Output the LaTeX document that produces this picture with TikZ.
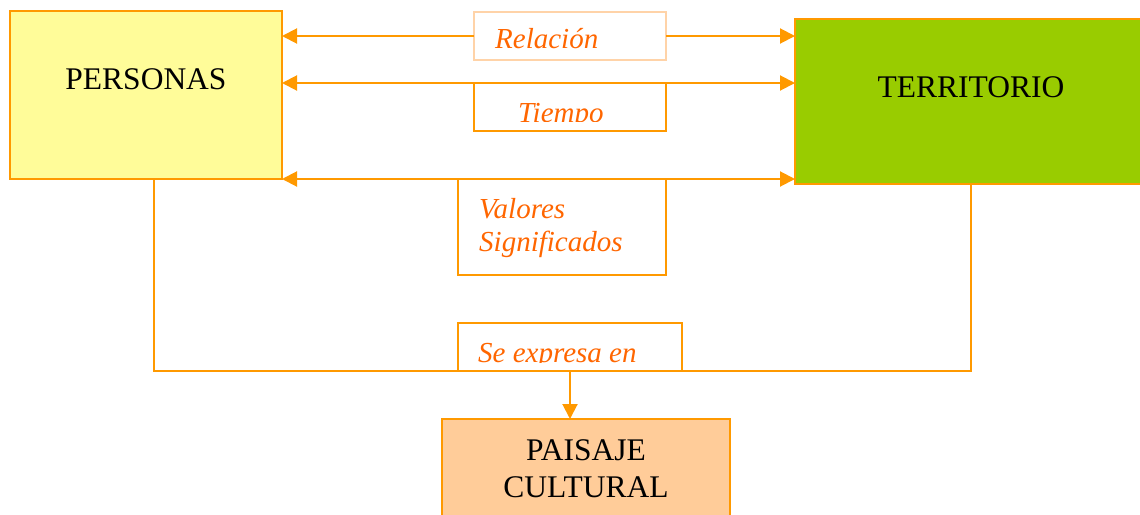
\documentclass[tikz,border=0pt]{standalone}
\usepackage{fontspec}
\setmainfont{Liberation Serif}
\usetikzlibrary{arrows.meta}
\definecolor{lineor}{HTML}{FF9900}
\definecolor{lightor}{HTML}{FFD3A8}
\definecolor{textor}{HTML}{FF6600}
\definecolor{persfill}{HTML}{FFFC99}
\definecolor{terrfill}{HTML}{99CC00}
\definecolor{paisfill}{HTML}{FFCC99}
\tikzset{
  box/.style={draw=lineor, line width=2pt, rectangle, inner sep=0pt, outer sep=0pt},
  bigtxt/.style={anchor=base, inner sep=0pt, font=\fontsize{31.5}{34}\selectfont, text=black},
  ittxt/.style={anchor=base west, inner sep=0pt, font=\fontsize{29}{33}\selectfont\itshape, text=textor, align=left},
  conn/.style={draw=lineor, line width=2pt},
  tip/.style={-{Triangle[length=15pt,width=15pt]}},
  tips/.style={{Triangle[length=15pt,width=15pt]}-{Triangle[length=15pt,width=15pt]}}
}
\begin{document}
\begin{tikzpicture}[x=1pt,y=-1pt]
\clip (0,0) rectangle (1140,514);
\fill[white] (0,0) rectangle (1140,514);
% main boxes
\node[box, fill=persfill, minimum width=272pt, minimum height=168pt] (per) at (146,95) {};
\node[bigtxt] (perT) at (146,89) {PERSONAS};
\node[box, fill=terrfill, minimum width=352pt, minimum height=165pt] (ter) at (971,101.5) {};
\node[bigtxt] (terT) at (971,97) {TERRITORIO};
\node[box, fill=paisfill, minimum width=288pt, minimum height=110pt] (pai) at (586,474) {};
\node[bigtxt] (paiT1) at (586,460) {PAISAJE};
\node[bigtxt] (paiT2) at (586,497) {CULTURAL};
% label boxes
\node[box, draw=lightor, minimum width=192pt, minimum height=48pt] (rel) at (570,36) {};
\node[ittxt] (relT) at (495,48) {Relación};
\node[box, minimum width=192pt, minimum height=48pt] (tie) at (570,107) {};
\begin{scope}
\clip (474,83) rectangle (666,121.5);
\node[ittxt] (tieT) at (518,122) {Tiempo};
\end{scope}
\node[box, minimum width=208pt, minimum height=96pt] (val) at (562,227) {};
\node[ittxt] (valT1) at (479,218) {Valores};
\node[ittxt] (valT2) at (479,251) {Significados};
\node[box, minimum width=224pt, minimum height=48pt] (sex) at (570,347) {};
\begin{scope}
\clip (458,323) rectangle (682,362);
\node[ittxt] (sexT) at (478,362.5) {Se expresa en};
\end{scope}
% arrows
\draw[conn, tip] (rel.west) -- (rel.west -| per.east);
\draw[conn, tip] (rel.east) -- (rel.east -| ter.west);
\draw[conn, tips] (per.east |- tie.north) -- (ter.west |- tie.north);
\draw[conn, tips] (per.south east) -- (ter.west |- per.south east);
% bottom connector
\coordinate (pl) at (154,371);
\draw[conn] (per.south -| pl) -- (pl) -- (pl -| ter.south) -- (ter.south);
\draw[conn, tip] (sex.south) -- (sex.south |- pai.north);
\end{tikzpicture}
\end{document}
